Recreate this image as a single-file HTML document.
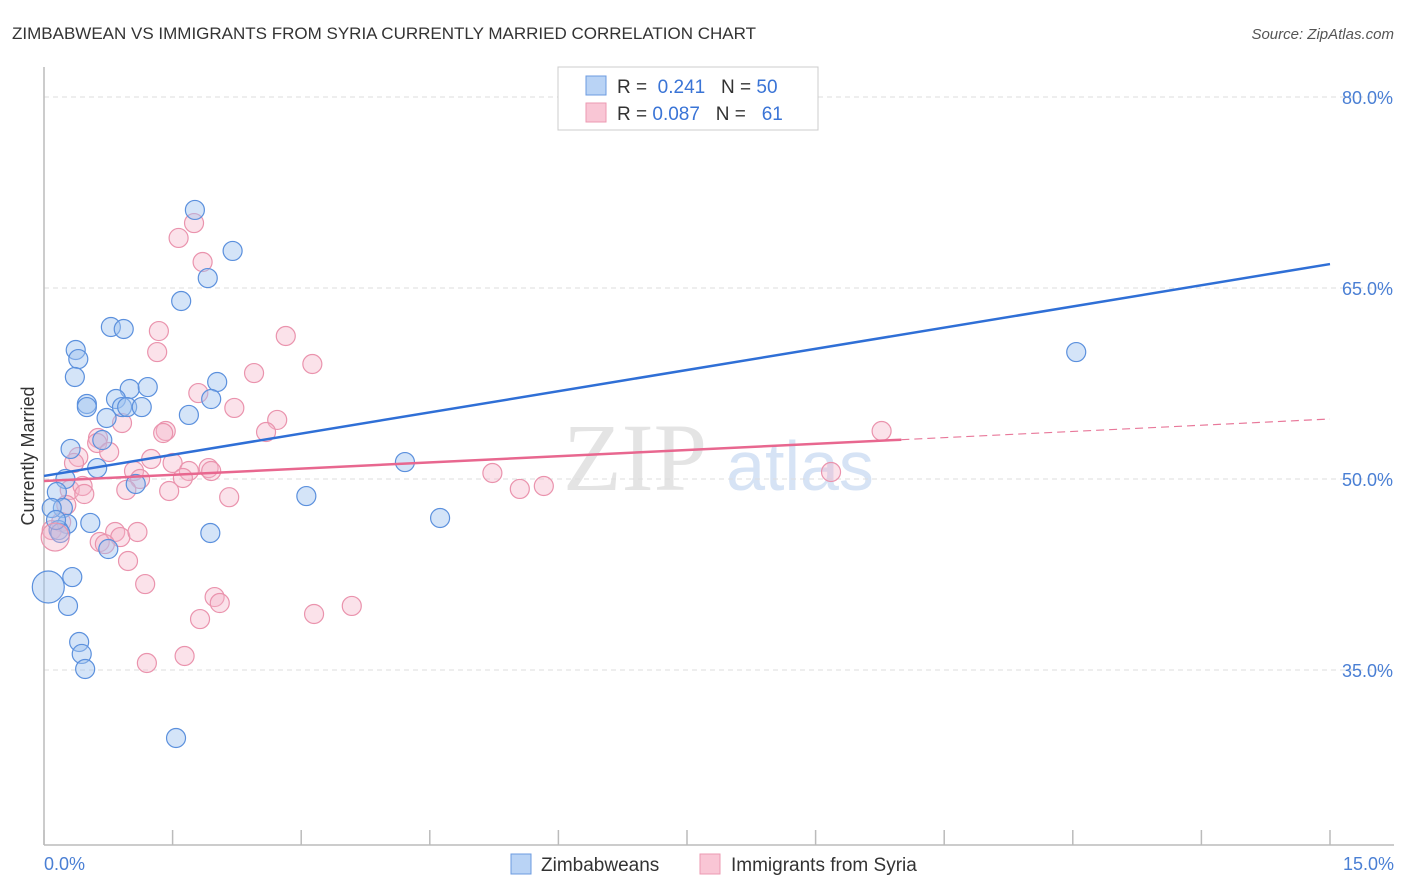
<!DOCTYPE html>
<html><head><meta charset="utf-8"><style>
body{margin:0;background:#fff;font-family:"Liberation Sans",sans-serif}
svg{display:block}
</style></head><body>
<svg id="chart" width="1406" height="892">
<text x="12" y="39" font-size="17" fill="#333">ZIMBABWEAN VS IMMIGRANTS FROM SYRIA CURRENTLY MARRIED CORRELATION CHART</text>
<text x="1394" y="39" font-size="15" fill="#555" text-anchor="end" font-style="italic">Source: ZipAtlas.com</text>
<text x="635" y="490" font-size="96" fill="#e4e4e4" font-family="Liberation Serif,serif" text-anchor="middle">ZIP</text>
<text x="800" y="490" font-size="70" fill="#d6e3f5" text-anchor="middle">atlas</text>
<g id="grid"></g><g id="axes"></g><g id="pts"></g><g id="lines"></g>
<text x="34" y="456" font-size="18" fill="#333" text-anchor="middle" transform="rotate(-90 34 456)">Currently Married</text>
<g>
<rect x="558" y="67" width="260" height="63" fill="#fff" stroke="#ccc"/>
<rect x="586" y="76" width="20" height="19" fill="#b9d3f5" stroke="#6c9be0"/>
<rect x="586" y="103" width="20" height="19" fill="#f9c6d5" stroke="#ec9ab2"/>
<text x="617" y="93" font-size="19" fill="#333">R = <tspan fill="#3a74d6">&#160;0.241</tspan>&#160;&#160;&#160;N = <tspan fill="#3a74d6">50</tspan></text>
<text x="617" y="120" font-size="19" fill="#333">R = <tspan fill="#3a74d6">0.087</tspan>&#160;&#160;&#160;N = <tspan fill="#3a74d6">&#160;&#160;61</tspan></text>
</g>
<g>
<rect x="511" y="854" width="20" height="20" fill="#b9d3f5" stroke="#6c9be0"/>
<text x="541" y="871" font-size="19" fill="#333">Zimbabweans</text>
<rect x="700" y="854" width="20" height="20" fill="#f9c6d5" stroke="#ec9ab2"/>
<text x="731" y="871" font-size="19" fill="#333">Immigrants from Syria</text>
</g>
</svg>
<script>
const yTicks=[80,65,50,35];
const xTickLabels=["0.0%","15.0%"];
const blueX=[1.76,2.20,1.60,1.91,0.78,0.93,0.37,0.40,0.36,2.02,1.00,1.21,0.84,1.95,0.50,0.50,0.91,0.97,1.14,0.73,1.69,0.31,0.68,0.62,4.21,0.25,1.07,0.15,3.06,0.22,0.27,0.54,4.62,0.17,0.19,1.94,0.75,0.33,0.28,0.41,0.44,0.48,1.54,12.04,0.09,0.14];
const blueY=[71.13,67.91,63.98,65.78,61.94,61.78,60.13,59.42,58.01,57.62,57.07,57.22,56.28,56.28,55.89,55.65,55.65,55.65,55.65,54.79,55.03,52.36,53.06,50.86,51.33,50.0,49.61,48.98,48.66,47.72,46.47,46.55,46.94,45.99,45.76,45.76,44.5,42.3,40.03,37.2,36.26,35.08,29.66,59.97,47.72,46.78];
const pinkX=[1.75,1.57,1.85,2.82,1.34,1.32,3.13,2.45,1.80,2.22,0.91,2.72,1.42,1.39,2.59,0.63,0.62,0.76,0.40,0.35,1.25,1.50,1.05,1.69,1.92,1.95,1.62,1.12,0.30,0.45,0.47,0.96,1.46,2.16,5.23,5.55,5.83,9.18,9.77,0.26,0.20,0.83,0.89,1.09,0.65,0.71,0.98,1.18,1.99,2.05,1.82,3.59,3.15,1.64,1.20,0.09];
const pinkY=[70.1,68.93,67.04,61.23,61.62,59.97,59.03,58.32,56.75,55.58,54.40,54.64,53.77,53.61,53.69,53.22,52.83,52.12,51.73,51.26,51.57,51.26,50.63,50.63,50.86,50.63,50.08,50.0,49.14,49.45,48.82,49.14,49.06,48.57,50.47,49.22,49.45,50.55,53.77,47.96,46.62,45.84,45.44,45.84,45.05,44.89,43.56,41.75,40.73,40.26,39.0,40.03,39.40,36.1,35.55,45.99];
const bigBlue=[0.05,41.52];
const bigPink=[0.13,45.44];
const blueTrend=[50.24,66.88];
const pinkTrend=[49.84,54.71];
const pinkSolidEnd=10.0;
const X=v=>44+v*(1286/15), Y=v=>97+(80-v)*(191/15);
const NS="http://www.w3.org/2000/svg";
function mk(t,a,p){const e=document.createElementNS(NS,t);for(const k in a)e.setAttribute(k,a[k]);p.appendChild(e);return e;}
const grid=document.getElementById('grid'),axes=document.getElementById('axes'),pts=document.getElementById('pts'),lines=document.getElementById('lines');
yTicks.forEach(v=>{
 const l=mk('line',{x1:44,x2:1394,y1:Y(v),y2:Y(v),stroke:'#ddd','stroke-dasharray':'5,4'},grid);
 
 
 const t=mk('text',{x:1393,y:Y(v)+7,'font-size':18,fill:'#4a7fd4','text-anchor':'end'},grid);
 t.textContent=v.toFixed(1)+'%';
 
 
});
const ax=mk('line',{x1:44,x2:44,y1:67,y2:845,stroke:'#bbb','stroke-width':1.5},axes);


const bx=mk('line',{x1:44,x2:1394,y1:845,y2:845,stroke:'#bbb','stroke-width':1.5},axes);


for(let i=0;i<=10;i++){const tk=mk('line',{x1:X(i*1.5),x2:X(i*1.5),y1:830,y2:845,stroke:'#bbb','stroke-width':1.5},axes);
 
 }
const xl0=mk('text',{x:44,y:870,'font-size':18,fill:'#4a7fd4'},axes);xl0.textContent=xTickLabels[0];


const xl1=mk('text',{x:1394,y:870,'font-size':18,fill:'#4a7fd4','text-anchor':'end'},axes);xl1.textContent=xTickLabels[1];


function dot(x,y,r,blue){
 const c=mk('circle',{cx:X(x),cy:Y(y),r:r,fill:blue?'rgba(160,196,240,0.45)':'rgba(245,178,200,0.38)',stroke:blue?'#5b90dd':'#ea93ad','stroke-width':1.2},pts);
 
 
}
pinkX.forEach((x,i)=>dot(x,pinkY[i],9.5,false));
blueX.forEach((x,i)=>dot(x,blueY[i],9.5,true));
dot(bigPink[0],bigPink[1],14,false);
dot(bigBlue[0],bigBlue[1],16,true);
const bl=mk('line',{x1:X(0),y1:Y(blueTrend[0]),x2:X(15),y2:Y(blueTrend[1]),stroke:'#2f6fd6','stroke-width':2.5},lines);


const pAt=x=>pinkTrend[0]+(pinkTrend[1]-pinkTrend[0])*x/15;
const pl=mk('line',{x1:X(0),y1:Y(pAt(0)),x2:X(pinkSolidEnd),y2:Y(pAt(pinkSolidEnd)),stroke:'#e8678f','stroke-width':2.5},lines);


const pd=mk('line',{x1:X(pinkSolidEnd),y1:Y(pAt(pinkSolidEnd)),x2:X(15),y2:Y(pAt(15)),stroke:'#e8789a','stroke-width':1.2,'stroke-dasharray':'8,5'},lines);


</script>
</body></html>
